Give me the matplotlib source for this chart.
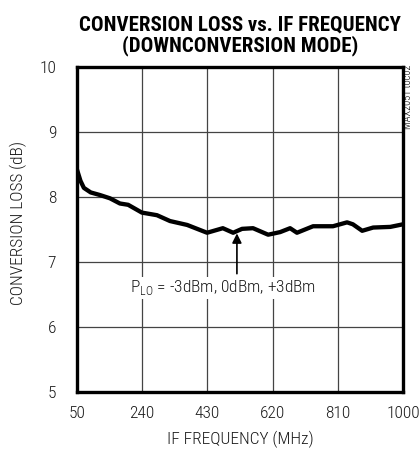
import numpy as np
import matplotlib.pyplot as plt

# conversion loss vs IF frequency, downconversion mode
freq_mhz = [50, 60, 70, 90, 117, 146, 175, 199, 239, 283, 321, 371, 429, 475,
            505, 531, 563, 607, 642, 671, 691, 738, 796, 837, 854, 881, 913,
            963, 1000]
loss_db = [8.42, 8.25, 8.14, 8.07, 8.03, 7.98, 7.90, 7.88, 7.76, 7.72, 7.63,
           7.57, 7.45, 7.52, 7.45, 7.51, 7.52, 7.42, 7.46, 7.52, 7.45, 7.55,
           7.55, 7.61, 7.58, 7.48, 7.53, 7.54, 7.58]

x_ticks = [50, 240, 430, 620, 810, 1000]
y_ticks = [5, 6, 7, 8, 9, 10]

narrow = ['Roboto Condensed', 'Archivo Narrow', 'DejaVu Sans']
plt.rcParams['font.family'] = narrow
plt.rcParams['mathtext.fontset'] = 'custom'
plt.rcParams['mathtext.rm'] = 'Roboto Condensed:light'

fig = plt.figure(figsize=(4.19, 4.54), dpi=100)
ax = fig.add_axes([0.1838, 0.1366, 0.7780, 0.7158])

ax.plot(freq_mhz, loss_db, color='black', lw=3.1, solid_joinstyle='round')

ax.set_xlim(50, 1000)
ax.set_ylim(5, 10)
ax.set_xticks(x_ticks)
ax.set_yticks(y_ticks)
ax.grid(True, color='#444444', lw=0.9)
ax.tick_params(length=0, labelsize=12.5, labelcolor='#1a1a1a')
ax.tick_params(axis='x', pad=10)
ax.tick_params(axis='y', pad=15)
for lab in ax.get_xticklabels() + ax.get_yticklabels():
    lab.set_fontweight('light')
for sp in ax.spines.values():
    sp.set_linewidth(2.4)
    sp.set_zorder(5)

ax.set_xlabel('IF FREQUENCY (MHz)', fontsize=12.5, fontweight='light',
              color='#1a1a1a', labelpad=7)
ax.set_ylabel('CONVERSION LOSS (dB)', fontsize=12.5, fontweight='light',
              color='#1a1a1a')
ax.yaxis.set_label_coords(-0.153, 0.52)

ax.set_title('CONVERSION LOSS vs. IF FREQUENCY\n(DOWNCONVERSION MODE)',
             fontweight='heavy', fontsize=15, linespacing=1.05, pad=11)

ax.annotate('', xy=(516, 7.44), xytext=(516, 6.82),
            arrowprops=dict(arrowstyle='-|>', color='black', lw=1.2,
                            mutation_scale=14, shrinkA=0, shrinkB=0))
ax.text(204, 6.6, r'P$_{\mathregular{LO}}$ = -3dBm, 0dBm, +3dBm',
        fontsize=12.5, fontweight='light', color='#1a1a1a',
        va='center', ha='left',
        bbox=dict(facecolor='white', edgecolor='none', pad=1))

fig.text(0.974, 0.858, 'MAX2051 toc02', rotation=90, fontsize=7.5,
         fontweight='light', ha='center', va='top')

fig.savefig('out.png', dpi=100)
